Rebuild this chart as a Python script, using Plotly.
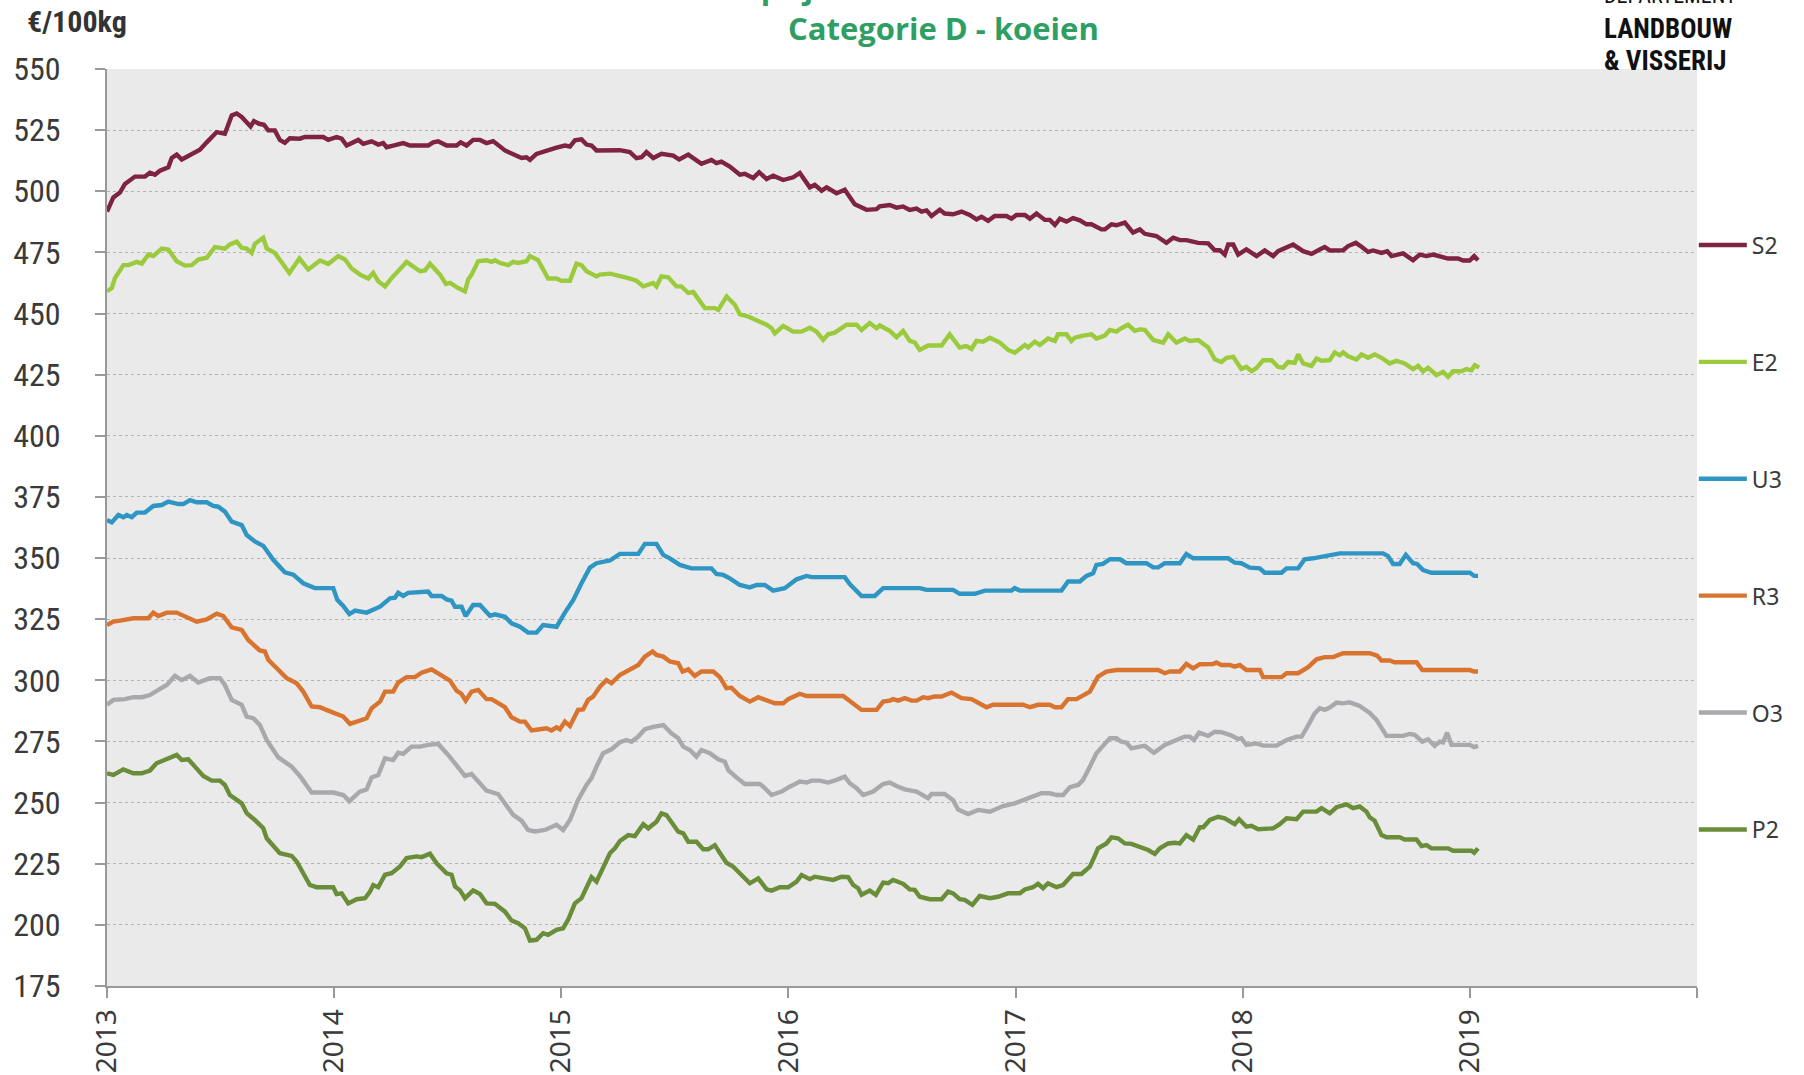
import plotly.graph_objects as go

# ---------------- data (decimal year, EUR/100kg) ----------------
s2_year = [2013.000, 2013.028, 2013.057, 2013.079, 2013.123, 2013.167, 2013.189, 2013.211, 2013.233, 2013.270,
           2013.285, 2013.307, 2013.329, 2013.365, 2013.409, 2013.439, 2013.483, 2013.519, 2013.549, 2013.571,
           2013.593, 2013.632, 2013.647, 2013.670, 2013.691, 2013.710, 2013.739, 2013.761, 2013.783, 2013.805,
           2013.849, 2013.871, 2013.952, 2013.974, 2014.011, 2014.033, 2014.055, 2014.106, 2014.128, 2014.165,
           2014.194, 2014.216, 2014.231, 2014.260, 2014.304, 2014.334, 2014.414, 2014.436, 2014.458, 2014.495,
           2014.539, 2014.557, 2014.583, 2014.612, 2014.642, 2014.671, 2014.700, 2014.752, 2014.781, 2014.825,
           2014.847, 2014.862, 2014.891, 2014.935, 2014.979, 2015.016, 2015.038, 2015.060, 2015.089, 2015.111,
           2015.133, 2015.155, 2015.258, 2015.302, 2015.331, 2015.353, 2015.375, 2015.405, 2015.441, 2015.493,
           2015.519, 2015.559, 2015.617, 2015.661, 2015.683, 2015.705, 2015.742, 2015.786, 2015.808, 2015.845,
           2015.871, 2015.904, 2015.933, 2015.977, 2016.021, 2016.050, 2016.094, 2016.116, 2016.146, 2016.168,
           2016.212, 2016.248, 2016.292, 2016.344, 2016.388, 2016.402, 2016.446, 2016.476, 2016.505, 2016.534,
           2016.564, 2016.586, 2016.608, 2016.630, 2016.666, 2016.688, 2016.725, 2016.762, 2016.798, 2016.828,
           2016.850, 2016.879, 2016.908, 2016.960, 2016.982, 2017.004, 2017.041, 2017.063, 2017.092, 2017.129,
           2017.151, 2017.173, 2017.195, 2017.224, 2017.253, 2017.283, 2017.312, 2017.334, 2017.378, 2017.393,
           2017.422, 2017.444, 2017.481, 2017.517, 2017.547, 2017.569, 2017.620, 2017.664, 2017.694, 2017.723,
           2017.752, 2017.804, 2017.848, 2017.877, 2017.899, 2017.921, 2017.936, 2017.958, 2017.980, 2018.016,
           2018.061, 2018.097, 2018.134, 2018.156, 2018.193, 2018.222, 2018.266, 2018.303, 2018.339, 2018.361,
           2018.383, 2018.442, 2018.464, 2018.498, 2018.523, 2018.552, 2018.574, 2018.611, 2018.636, 2018.655,
           2018.706, 2018.750, 2018.779, 2018.809, 2018.838, 2018.867, 2018.904, 2018.948, 2018.970, 2018.999,
           2019.019, 2019.036]
s2_val = [491.7, 497.5, 499.5, 503.0, 506.0, 506.0, 507.6, 506.8, 508.4, 509.8,
          513.6, 515.0, 513.0, 515.0, 517.0, 520.0, 524.2, 523.5, 531.0, 531.8,
          530.4, 526.5, 528.7, 527.6, 527.2, 524.9, 524.9, 521.0, 519.8, 521.7,
          521.5, 522.2, 522.2, 521.0, 522.2, 521.5, 518.7, 521.0, 519.4, 520.4,
          519.1, 519.7, 518.0, 518.7, 519.7, 518.7, 518.7, 520.0, 520.4, 518.7,
          518.7, 520.0, 518.7, 521.0, 521.0, 519.7, 520.5, 516.7, 515.6, 513.6,
          513.9, 512.8, 515.3, 516.7, 517.8, 518.7, 518.3, 520.8, 521.2, 519.1,
          518.7, 516.7, 516.8, 516.0, 513.5, 513.9, 516.0, 513.6, 515.3, 514.6,
          513.0, 515.0, 511.2, 512.8, 511.5, 512.1, 510.1, 506.8, 507.1, 505.4,
          507.8, 505.0, 506.4, 504.6, 505.7, 507.5, 501.6, 502.6, 500.2, 501.6,
          499.2, 500.6, 494.7, 492.4, 492.7, 493.8, 494.4, 493.3, 493.8, 492.4,
          492.9, 491.7, 492.2, 489.9, 492.4, 490.9, 490.6, 491.7, 490.3, 488.5,
          489.6, 487.9, 489.9, 489.9, 488.8, 490.3, 490.3, 488.8, 490.9, 488.3,
          488.3, 486.2, 488.8, 487.6, 489.0, 488.1, 486.5, 486.5, 484.4, 484.4,
          486.5, 486.1, 487.2, 483.1, 484.4, 482.6, 481.7, 478.9, 481.0, 480.0,
          480.0, 478.9, 478.7, 475.9, 475.9, 474.1, 478.2, 478.2, 474.1, 476.2,
          473.5, 475.8, 473.5, 475.5, 476.9, 478.2, 475.5, 474.4, 476.2, 477.2,
          475.8, 475.9, 477.6, 478.9, 477.3, 475.2, 475.8, 474.8, 475.5, 473.5,
          474.6, 471.8, 474.1, 473.5, 474.1, 473.2, 472.5, 472.5, 471.7, 471.7,
          473.5, 471.8]

e2_year = [2013.000, 2013.021, 2013.035, 2013.072, 2013.094, 2013.131, 2013.153, 2013.182, 2013.204, 2013.241,
           2013.270, 2013.307, 2013.343, 2013.373, 2013.402, 2013.439, 2013.475, 2013.519, 2013.541, 2013.571,
           2013.593, 2013.615, 2013.637, 2013.651, 2013.688, 2013.703, 2013.739, 2013.803, 2013.847, 2013.886,
           2013.938, 2013.974, 2014.018, 2014.048, 2014.077, 2014.114, 2014.150, 2014.172, 2014.194, 2014.224,
           2014.253, 2014.319, 2014.378, 2014.400, 2014.422, 2014.466, 2014.492, 2014.510, 2014.546, 2014.576,
           2014.590, 2014.605, 2014.634, 2014.671, 2014.693, 2014.708, 2014.730, 2014.766, 2014.788, 2014.810,
           2014.847, 2014.862, 2014.898, 2014.942, 2014.979, 2015.001, 2015.038, 2015.067, 2015.089, 2015.111,
           2015.155, 2015.170, 2015.214, 2015.258, 2015.295, 2015.331, 2015.361, 2015.405, 2015.419, 2015.441,
           2015.471, 2015.507, 2015.529, 2015.559, 2015.581, 2015.632, 2015.676, 2015.691, 2015.728, 2015.764,
           2015.786, 2015.823, 2015.860, 2015.904, 2015.926, 2015.940, 2015.977, 2016.021, 2016.058, 2016.094,
           2016.124, 2016.153, 2016.175, 2016.204, 2016.256, 2016.300, 2016.322, 2016.358, 2016.388, 2016.402,
           2016.446, 2016.476, 2016.505, 2016.534, 2016.556, 2016.578, 2016.615, 2016.674, 2016.710, 2016.754,
           2016.784, 2016.806, 2016.828, 2016.857, 2016.887, 2016.931, 2016.967, 2016.997, 2017.041, 2017.055,
           2017.085, 2017.107, 2017.143, 2017.173, 2017.187, 2017.224, 2017.246, 2017.261, 2017.297, 2017.334,
           2017.356, 2017.393, 2017.415, 2017.444, 2017.466, 2017.495, 2017.525, 2017.547, 2017.569, 2017.606,
           2017.650, 2017.672, 2017.708, 2017.745, 2017.767, 2017.804, 2017.848, 2017.877, 2017.906, 2017.929,
           2017.958, 2017.994, 2018.016, 2018.039, 2018.061, 2018.090, 2018.127, 2018.156, 2018.178, 2018.200,
           2018.229, 2018.244, 2018.266, 2018.303, 2018.325, 2018.347, 2018.383, 2018.405, 2018.427, 2018.442,
           2018.464, 2018.501, 2018.523, 2018.552, 2018.581, 2018.611, 2018.647, 2018.677, 2018.713, 2018.750,
           2018.772, 2018.794, 2018.816, 2018.853, 2018.882, 2018.904, 2018.926, 2018.963, 2018.985, 2019.007,
           2019.022, 2019.041]
e2_val = [459.1, 460.4, 464.5, 469.8, 469.8, 471.1, 470.4, 474.1, 473.5, 476.6,
          476.2, 471.4, 469.6, 469.8, 472.1, 472.8, 477.2, 476.5, 478.3, 479.4,
          476.9, 476.6, 474.8, 478.5, 481.0, 476.6, 474.8, 466.6, 472.5, 468.0,
          471.7, 470.3, 473.5, 472.1, 468.4, 465.9, 464.3, 466.6, 463.2, 461.1,
          464.5, 471.1, 467.3, 467.6, 470.4, 465.9, 462.1, 462.5, 460.4, 459.1,
          463.9, 465.9, 471.4, 471.8, 471.1, 471.8, 470.7, 469.8, 471.1, 470.7,
          471.4, 473.5, 471.8, 464.3, 464.3, 463.4, 463.4, 470.4, 469.8, 467.3,
          465.2, 465.9, 466.3, 465.5, 464.5, 463.4, 461.1, 462.5, 461.1, 465.2,
          464.8, 461.1, 461.1, 458.4, 458.8, 452.2, 452.2, 451.5, 457.0, 453.6,
          449.7, 448.8, 447.4, 445.4, 444.0, 441.9, 444.9, 442.6, 442.6, 444.2,
          442.6, 439.2, 441.5, 442.2, 445.4, 445.4, 443.3, 446.1, 444.0, 445.1,
          442.9, 440.3, 442.9, 438.8, 438.2, 435.1, 436.9, 436.9, 441.5, 436.1,
          436.7, 435.5, 438.8, 438.5, 440.1, 438.1, 435.1, 434.0, 437.1, 436.1,
          438.5, 437.1, 439.8, 438.8, 441.5, 441.5, 438.8, 440.1, 441.0, 441.5,
          439.8, 441.0, 443.3, 442.6, 444.0, 445.4, 442.9, 443.5, 443.3, 439.2,
          438.1, 441.5, 438.1, 439.8, 438.8, 439.2, 436.1, 431.3, 430.2, 431.9,
          432.3, 427.3, 428.2, 426.4, 427.8, 430.9, 430.9, 428.2, 427.9, 430.2,
          429.8, 433.3, 429.6, 428.6, 431.6, 430.7, 430.9, 434.1, 432.9, 434.1,
          432.5, 431.2, 433.3, 431.9, 433.3, 431.9, 429.6, 430.7, 429.6, 427.3,
          428.6, 426.4, 427.8, 424.8, 426.1, 424.1, 426.4, 426.4, 427.3, 426.8,
          428.9, 427.9]

u3_year = [2013.000, 2013.021, 2013.050, 2013.072, 2013.087, 2013.109, 2013.131, 2013.167, 2013.204, 2013.241,
           2013.270, 2013.314, 2013.336, 2013.365, 2013.395, 2013.439, 2013.468, 2013.490, 2013.519, 2013.549,
           2013.593, 2013.615, 2013.651, 2013.688, 2013.732, 2013.783, 2013.820, 2013.864, 2013.915, 2013.996,
           2014.014, 2014.040, 2014.067, 2014.092, 2014.143, 2014.172, 2014.202, 2014.246, 2014.268, 2014.282,
           2014.304, 2014.326, 2014.414, 2014.429, 2014.473, 2014.495, 2014.517, 2014.532, 2014.561, 2014.579,
           2014.612, 2014.642, 2014.686, 2014.708, 2014.752, 2014.781, 2014.818, 2014.854, 2014.891, 2014.920,
           2014.979, 2015.016, 2015.053, 2015.089, 2015.126, 2015.155, 2015.214, 2015.258, 2015.339, 2015.368,
           2015.419, 2015.449, 2015.478, 2015.522, 2015.573, 2015.661, 2015.683, 2015.713, 2015.742, 2015.786,
           2015.830, 2015.860, 2015.896, 2015.933, 2015.984, 2016.036, 2016.080, 2016.102, 2016.248, 2016.270,
           2016.322, 2016.380, 2016.417, 2016.578, 2016.608, 2016.725, 2016.754, 2016.820, 2016.865, 2016.982,
           2016.996, 2017.019, 2017.202, 2017.231, 2017.283, 2017.312, 2017.341, 2017.356, 2017.385, 2017.415,
           2017.459, 2017.488, 2017.547, 2017.576, 2017.606, 2017.628, 2017.657, 2017.723, 2017.752, 2017.782,
           2017.936, 2017.965, 2017.994, 2018.031, 2018.075, 2018.097, 2018.171, 2018.193, 2018.244, 2018.273,
           2018.310, 2018.361, 2018.405, 2018.427, 2018.618, 2018.640, 2018.662, 2018.691, 2018.718, 2018.750,
           2018.768, 2018.794, 2018.831, 2019.000, 2019.019, 2019.036]
u3_val = [365.6, 364.6, 367.6, 366.7, 367.6, 366.7, 368.6, 368.6, 371.3, 371.7,
          373.1, 372.1, 372.1, 373.7, 372.8, 372.8, 371.3, 371.0, 369.0, 364.9,
          363.5, 359.4, 356.8, 355.0, 349.3, 344.2, 343.2, 339.7, 337.7, 337.7,
          332.9, 330.4, 327.1, 328.5, 327.7, 329.0, 330.1, 333.5, 333.8, 335.8,
          334.5, 335.8, 336.3, 334.5, 334.5, 333.1, 332.6, 330.1, 330.1, 326.3,
          330.8, 330.8, 326.4, 327.0, 326.0, 323.3, 321.9, 319.5, 319.5, 322.6,
          321.9, 327.7, 332.9, 339.7, 346.1, 347.9, 349.0, 351.7, 351.7, 355.8,
          355.8, 351.3, 349.9, 347.2, 345.8, 345.8, 343.5, 343.1, 341.7, 339.0,
          338.0, 339.0, 339.0, 336.7, 337.7, 341.3, 342.7, 342.2, 342.2, 339.4,
          334.5, 334.5, 337.7, 337.7, 337.0, 337.0, 335.4, 335.4, 336.7, 336.7,
          337.7, 336.7, 336.7, 340.4, 340.4, 342.7, 343.8, 347.2, 347.6, 349.5,
          349.5, 347.9, 348.0, 347.9, 346.2, 346.2, 347.9, 347.9, 351.7, 349.9,
          349.9, 348.1, 347.9, 346.1, 345.8, 344.0, 344.0, 345.8, 345.8, 349.5,
          349.9, 350.8, 351.3, 351.9, 351.9, 350.8, 347.6, 347.6, 351.3, 347.9,
          347.6, 345.1, 344.0, 344.0, 342.7, 342.7]

r3_year = [2013.000, 2013.028, 2013.057, 2013.087, 2013.116, 2013.182, 2013.204, 2013.226, 2013.263, 2013.307,
           2013.351, 2013.395, 2013.439, 2013.483, 2013.512, 2013.549, 2013.593, 2013.622, 2013.673, 2013.695,
           2013.710, 2013.747, 2013.791, 2013.835, 2013.864, 2013.901, 2013.937, 2013.974, 2014.011, 2014.040,
           2014.070, 2014.106, 2014.143, 2014.165, 2014.202, 2014.224, 2014.260, 2014.282, 2014.319, 2014.356,
           2014.385, 2014.429, 2014.466, 2014.510, 2014.539, 2014.561, 2014.579, 2014.605, 2014.634, 2014.671,
           2014.693, 2014.752, 2014.781, 2014.818, 2014.840, 2014.869, 2014.906, 2014.935, 2014.957, 2014.979,
           2014.994, 2015.016, 2015.038, 2015.074, 2015.096, 2015.118, 2015.140, 2015.170, 2015.199, 2015.221,
           2015.258, 2015.309, 2015.339, 2015.368, 2015.402, 2015.419, 2015.449, 2015.478, 2015.515, 2015.534,
           2015.559, 2015.588, 2015.617, 2015.669, 2015.698, 2015.727, 2015.749, 2015.786, 2015.830, 2015.867,
           2015.904, 2015.940, 2015.977, 2015.999, 2016.050, 2016.080, 2016.241, 2016.285, 2016.322, 2016.388,
           2016.417, 2016.446, 2016.461, 2016.483, 2016.512, 2016.542, 2016.564, 2016.593, 2016.615, 2016.644,
           2016.674, 2016.718, 2016.762, 2016.806, 2016.842, 2016.872, 2016.901, 2017.033, 2017.063, 2017.099,
           2017.151, 2017.173, 2017.202, 2017.231, 2017.268, 2017.297, 2017.327, 2017.363, 2017.400, 2017.444,
           2017.547, 2017.628, 2017.657, 2017.679, 2017.723, 2017.752, 2017.782, 2017.811, 2017.870, 2017.884,
           2017.906, 2017.943, 2017.965, 2017.987, 2018.016, 2018.075, 2018.090, 2018.171, 2018.193, 2018.244,
           2018.288, 2018.325, 2018.361, 2018.398, 2018.442, 2018.559, 2018.592, 2018.611, 2018.647, 2018.669,
           2018.765, 2018.791, 2019.000, 2019.019, 2019.036]
r3_val = [322.6, 324.0, 324.4, 324.7, 325.4, 325.4, 327.7, 326.3, 327.7, 327.7,
          325.6, 324.0, 324.9, 327.3, 326.3, 321.7, 320.6, 316.5, 312.2, 311.8,
          308.4, 305.0, 300.9, 298.8, 295.4, 289.3, 289.0, 287.6, 286.5, 285.2,
          282.2, 283.5, 284.5, 288.6, 291.3, 295.4, 295.4, 299.1, 301.3, 301.3,
          303.1, 304.5, 302.6, 299.9, 295.8, 294.4, 291.7, 295.4, 296.1, 292.3,
          292.3, 289.0, 284.9, 283.1, 283.1, 279.5, 280.0, 280.4, 279.5, 280.8,
          280.0, 283.1, 281.3, 287.9, 288.1, 292.0, 293.3, 297.4, 300.1, 298.8,
          302.2, 304.9, 306.3, 309.7, 311.8, 310.4, 309.7, 307.7, 307.0, 303.6,
          304.5, 301.8, 303.6, 303.6, 301.3, 296.8, 297.0, 293.6, 291.3, 293.1,
          292.0, 290.6, 290.6, 292.3, 294.5, 293.6, 293.6, 290.6, 287.9, 287.9,
          291.3, 291.7, 292.3, 291.7, 292.7, 291.7, 291.7, 293.1, 292.7, 293.4,
          293.4, 295.0, 292.7, 292.3, 290.4, 289.0, 290.0, 290.0, 289.0, 290.0,
          290.0, 289.0, 289.0, 292.3, 292.3, 294.0, 295.4, 301.5, 303.6, 304.2,
          304.2, 304.2, 302.9, 303.6, 303.6, 306.7, 304.9, 306.6, 306.7, 307.3,
          306.3, 306.3, 305.6, 306.3, 304.2, 304.2, 301.3, 301.3, 302.9, 302.9,
          305.4, 308.6, 309.5, 309.5, 311.1, 311.1, 310.1, 308.1, 308.1, 307.4,
          307.4, 304.2, 304.2, 303.6, 303.6]

o3_year = [2013.000, 2013.028, 2013.079, 2013.116, 2013.153, 2013.189, 2013.226, 2013.263, 2013.299, 2013.329,
           2013.365, 2013.402, 2013.453, 2013.497, 2013.519, 2013.549, 2013.593, 2013.615, 2013.644, 2013.673,
           2013.703, 2013.754, 2013.813, 2013.849, 2013.901, 2013.945, 2013.967, 2013.996, 2014.040, 2014.067,
           2014.113, 2014.143, 2014.165, 2014.194, 2014.224, 2014.260, 2014.282, 2014.304, 2014.341, 2014.378,
           2014.414, 2014.458, 2014.502, 2014.546, 2014.576, 2014.605, 2014.634, 2014.671, 2014.722, 2014.752,
           2014.788, 2014.825, 2014.854, 2014.884, 2014.928, 2014.979, 2015.008, 2015.038, 2015.074, 2015.111,
           2015.133, 2015.155, 2015.184, 2015.221, 2015.258, 2015.287, 2015.309, 2015.339, 2015.368, 2015.405,
           2015.449, 2015.485, 2015.515, 2015.537, 2015.566, 2015.595, 2015.617, 2015.654, 2015.691, 2015.720,
           2015.735, 2015.771, 2015.808, 2015.874, 2015.889, 2015.926, 2015.970, 2016.006, 2016.050, 2016.080,
           2016.102, 2016.138, 2016.175, 2016.212, 2016.248, 2016.270, 2016.300, 2016.329, 2016.373, 2016.417,
           2016.446, 2016.476, 2016.512, 2016.564, 2016.586, 2016.615, 2016.630, 2016.688, 2016.725, 2016.747,
           2016.791, 2016.835, 2016.887, 2016.945, 2016.996, 2017.055, 2017.114, 2017.151, 2017.180, 2017.209,
           2017.239, 2017.275, 2017.297, 2017.327, 2017.356, 2017.385, 2017.415, 2017.444, 2017.466, 2017.488,
           2017.510, 2017.547, 2017.569, 2017.609, 2017.657, 2017.708, 2017.745, 2017.767, 2017.785, 2017.808,
           2017.848, 2017.877, 2017.906, 2017.943, 2017.980, 2017.994, 2018.016, 2018.060, 2018.090, 2018.149,
           2018.193, 2018.237, 2018.259, 2018.281, 2018.317, 2018.339, 2018.361, 2018.383, 2018.413, 2018.442,
           2018.471, 2018.515, 2018.559, 2018.589, 2018.633, 2018.706, 2018.735, 2018.757, 2018.791, 2018.816,
           2018.845, 2018.867, 2018.882, 2018.900, 2018.919, 2019.000, 2019.019, 2019.036]
o3_val = [290.0, 292.0, 292.3, 293.1, 293.1, 294.0, 296.1, 298.1, 301.8, 300.1,
          301.8, 299.1, 300.9, 300.9, 298.1, 292.0, 290.0, 285.2, 284.5, 281.7,
          275.6, 268.5, 264.7, 260.9, 254.1, 254.1, 254.5, 254.1, 253.1, 250.6,
          254.5, 255.4, 260.3, 261.3, 268.1, 267.4, 270.4, 269.9, 272.9, 272.9,
          273.6, 274.0, 269.5, 264.7, 260.9, 261.7, 258.6, 254.9, 253.5, 249.7,
          245.0, 242.6, 238.8, 238.2, 238.8, 240.9, 238.8, 242.9, 251.1, 257.2,
          260.0, 264.7, 270.2, 271.8, 274.7, 275.6, 274.9, 277.0, 280.0, 281.0,
          281.7, 278.3, 276.3, 272.9, 271.5, 268.8, 271.5, 270.2, 267.7, 266.7,
          263.3, 260.3, 257.6, 257.6, 256.5, 253.1, 254.5, 256.5, 258.6, 258.2,
          259.0, 259.0, 258.2, 259.3, 260.6, 257.9, 255.9, 253.1, 254.5, 257.6,
          258.2, 256.8, 255.4, 254.5, 253.5, 251.8, 253.5, 253.5, 251.0, 247.2,
          245.3, 247.0, 246.3, 248.6, 249.7, 251.8, 253.8, 253.8, 253.1, 253.1,
          256.3, 257.2, 259.3, 264.7, 270.2, 273.2, 276.3, 276.3, 274.9, 274.5,
          272.2, 272.9, 273.2, 270.4, 273.6, 275.6, 277.0, 277.0, 275.6, 278.6,
          277.3, 279.0, 278.8, 277.7, 276.0, 276.3, 273.6, 274.2, 273.3, 273.3,
          275.6, 277.0, 277.0, 280.4, 286.5, 288.6, 287.9, 288.9, 290.9, 290.6,
          291.0, 289.5, 286.7, 283.8, 277.3, 277.3, 278.1, 277.7, 274.9, 275.9,
          273.2, 274.9, 274.6, 278.6, 273.6, 273.6, 272.7, 273.2]

p2_year = [2013.000, 2013.028, 2013.072, 2013.116, 2013.153, 2013.189, 2013.218, 2013.263, 2013.307, 2013.329,
           2013.358, 2013.387, 2013.424, 2013.461, 2013.497, 2013.519, 2013.541, 2013.593, 2013.615, 2013.651,
           2013.688, 2013.703, 2013.761, 2013.813, 2013.835, 2013.893, 2013.923, 2013.996, 2014.011, 2014.033,
           2014.062, 2014.099, 2014.136, 2014.158, 2014.172, 2014.194, 2014.224, 2014.253, 2014.290, 2014.319,
           2014.363, 2014.385, 2014.422, 2014.451, 2014.495, 2014.517, 2014.532, 2014.554, 2014.576, 2014.612,
           2014.642, 2014.671, 2014.708, 2014.752, 2014.781, 2014.810, 2014.840, 2014.862, 2014.891, 2014.920,
           2014.942, 2014.979, 2015.008, 2015.030, 2015.060, 2015.089, 2015.111, 2015.133, 2015.155, 2015.184,
           2015.214, 2015.236, 2015.258, 2015.295, 2015.324, 2015.361, 2015.383, 2015.419, 2015.441, 2015.463,
           2015.515, 2015.537, 2015.559, 2015.595, 2015.625, 2015.647, 2015.676, 2015.705, 2015.727, 2015.757,
           2015.793, 2015.830, 2015.867, 2015.904, 2015.926, 2015.962, 2015.999, 2016.036, 2016.058, 2016.094,
           2016.116, 2016.175, 2016.197, 2016.234, 2016.263, 2016.285, 2016.307, 2016.322, 2016.358, 2016.385,
           2016.417, 2016.439, 2016.461, 2016.505, 2016.534, 2016.556, 2016.578, 2016.622, 2016.674, 2016.703,
           2016.725, 2016.754, 2016.776, 2016.810, 2016.842, 2016.887, 2016.923, 2016.967, 2017.019, 2017.041,
           2017.077, 2017.099, 2017.121, 2017.143, 2017.180, 2017.209, 2017.253, 2017.290, 2017.327, 2017.349,
           2017.363, 2017.400, 2017.422, 2017.451, 2017.481, 2017.510, 2017.547, 2017.584, 2017.613, 2017.635,
           2017.672, 2017.701, 2017.723, 2017.752, 2017.782, 2017.811, 2017.826, 2017.855, 2017.892, 2017.921,
           2017.965, 2017.984, 2018.016, 2018.038, 2018.068, 2018.104, 2018.134, 2018.163, 2018.193, 2018.237,
           2018.266, 2018.325, 2018.347, 2018.383, 2018.413, 2018.457, 2018.486, 2018.515, 2018.545, 2018.559,
           2018.581, 2018.611, 2018.633, 2018.691, 2018.713, 2018.765, 2018.787, 2018.809, 2018.831, 2018.904,
           2018.926, 2019.007, 2019.019, 2019.036]
p2_val = [262.0, 261.3, 263.6, 262.0, 262.0, 263.1, 266.1, 267.7, 269.5, 267.4,
          267.7, 264.7, 260.9, 259.0, 259.0, 257.2, 253.1, 249.7, 245.7, 242.9,
          239.5, 235.4, 229.3, 228.2, 225.9, 216.3, 215.4, 215.4, 212.6, 212.9,
          208.8, 210.5, 210.9, 213.6, 216.3, 215.4, 220.5, 221.1, 223.9, 227.3,
          228.0, 227.7, 229.1, 225.2, 221.1, 220.5, 215.7, 214.1, 210.9, 214.1,
          212.6, 208.8, 208.6, 205.4, 201.8, 200.7, 198.6, 193.6, 193.9, 196.6,
          195.9, 198.0, 198.6, 202.1, 208.8, 210.9, 215.7, 219.5, 217.7, 223.9,
          229.3, 231.3, 234.3, 236.7, 236.3, 241.2, 239.5, 242.2, 245.6, 244.9,
          238.1, 237.4, 234.0, 234.0, 230.9, 230.9, 232.6, 228.5, 225.4, 223.8,
          220.4, 217.0, 219.0, 214.5, 214.0, 215.4, 215.4, 217.7, 220.4, 218.7,
          219.7, 219.0, 218.4, 219.7, 219.5, 216.3, 215.0, 212.3, 214.0, 212.3,
          217.3, 217.0, 218.4, 216.8, 214.5, 214.3, 211.5, 210.5, 210.5, 213.6,
          212.9, 210.5, 210.2, 208.2, 211.8, 210.9, 211.5, 212.9, 212.9, 214.5,
          215.4, 216.8, 215.0, 217.0, 215.4, 216.3, 220.8, 220.8, 223.8, 228.2,
          231.3, 233.3, 235.8, 235.4, 233.3, 233.1, 232.0, 230.6, 229.0, 231.3,
          233.3, 233.6, 233.3, 236.7, 234.9, 239.9, 239.9, 242.9, 244.2, 243.6,
          241.2, 243.2, 240.2, 240.5, 239.1, 239.5, 239.5, 241.2, 243.6, 243.2,
          246.3, 246.3, 247.7, 245.6, 248.1, 249.3, 247.7, 248.4, 246.3, 244.0,
          242.6, 236.7, 235.8, 235.8, 234.9, 234.9, 232.2, 232.6, 231.3, 231.3,
          230.3, 230.3, 229.5, 231.3]

series_names = ["S2", "E2", "U3", "R3", "O3", "P2"]
series_colors = ["#7E2340", "#9BCB3C", "#2F96C3", "#D8742F", "#A9A9AD", "#6A8D3A"]
series_x = [s2_year, e2_year, u3_year, r3_year, o3_year, p2_year]
series_y = [s2_val, e2_val, u3_val, r3_val, o3_val, p2_val]

y_ticks = [175, 200, 225, 250, 275, 300, 325, 350, 375, 400, 425, 450, 475, 500, 525, 550]
x_ticks = [2013, 2014, 2015, 2016, 2017, 2018, 2019, 2020]
x_ticktext = ["2013", "2014", "2015", "2016", "2017", "2018", "2019", ""]

# ---------------- figure ----------------
fig = go.Figure()
for name, color, xs, ys in zip(series_names, series_colors, series_x, series_y):
    fig.add_trace(go.Scatter(
        x=xs, y=ys, mode="lines", name=name, legendgroup=name,
        line=dict(color=color, width=4.4),
    ))

narrow = "Liberation Sans Narrow, Roboto Condensed, Lato, sans-serif"
fig.update_layout(
    width=1804, height=1075, autosize=False,
    margin=dict(l=107, r=107, t=69, b=89, autoexpand=False),
    paper_bgcolor="white", plot_bgcolor="#EAEAEA",
    showlegend=True,
    legend=dict(
        x=0.998, xanchor="left", y=0.8315, yanchor="top",
        traceorder="grouped", tracegroupgap=84,
        font=dict(family="Noto Sans, Open Sans, sans-serif", size=23, color="#3a3a3a"),
        bgcolor="rgba(0,0,0,0)", itemwidth=48,
    ),
    xaxis=dict(
        range=[2013, 2020], tickmode="array", tickvals=x_ticks, ticktext=x_ticktext,
        tickangle=-90, ticks="outside", ticklen=10, tickcolor="#999999", tickwidth=1.5,
        showline=True, linecolor="#999999", linewidth=2, showgrid=False, zeroline=False,
        automargin=False,
        tickfont=dict(family="Noto Sans, Open Sans, sans-serif", size=28, color="#3a3a3a"),
    ),
    yaxis=dict(
        range=[175, 550], tickmode="array", tickvals=y_ticks,
        ticks="outside", ticklen=10, tickcolor="#999999", tickwidth=1.5,
        showline=True, linecolor="#999999", linewidth=2,
        showgrid=True, gridcolor="#B4B4B4", griddash="dot", gridwidth=1.2, zeroline=False,
        automargin=False,
        tickfont=dict(family=narrow, size=32, color="#3a3a3a"), ticklabelstandoff=28,
    ),
)

# axis unit label
fig.add_annotation(
    text="<b>€/100kg</b>", xref="paper", yref="paper", x=-0.0516, y=1.0523,
    xanchor="left", yanchor="middle", showarrow=False,
    font=dict(family=narrow, size=30, color="#333333"),
)

# title (first line cropped off at top of image)
fig.add_annotation(
    text="<b>Marktprijzen</b>", xref="paper", yref="paper", x=0.350, y=1.0895,
    xanchor="left", yanchor="middle", showarrow=False,
    font=dict(family="Open Sans, sans-serif", size=31, color="#2E9E63"),
)
fig.add_annotation(
    text="<b>Categorie D - koeien</b>", xref="paper", yref="paper", x=0.526, y=1.045,
    xanchor="center", yanchor="middle", showarrow=False,
    font=dict(family="Open Sans, sans-serif", size=31, color="#2E9E63"),
)

# logo text
logo_font = dict(family=narrow, size=27, color="#111111")
fig.add_annotation(text="DEPARTEMENT", xref="paper", yref="paper", x=0.940, y=1.0805,
                   xanchor="left", yanchor="middle", showarrow=False,
                   font=dict(family=narrow, size=22, color="#111111"))
fig.add_annotation(text="<b>LANDBOUW</b>", xref="paper", yref="paper", x=0.940, y=1.0436,
                   xanchor="left", yanchor="middle", showarrow=False, font=logo_font)
fig.add_annotation(text="<b>&amp; VISSERIJ</b>", xref="paper", yref="paper", x=0.940, y=1.0087,
                   xanchor="left", yanchor="middle", showarrow=False, font=logo_font)

fig.write_html(
    "out.html",
    config={"displayModeBar": False},
    post_script="document.body.style.margin='0';document.body.style.overflow='hidden';",
)
